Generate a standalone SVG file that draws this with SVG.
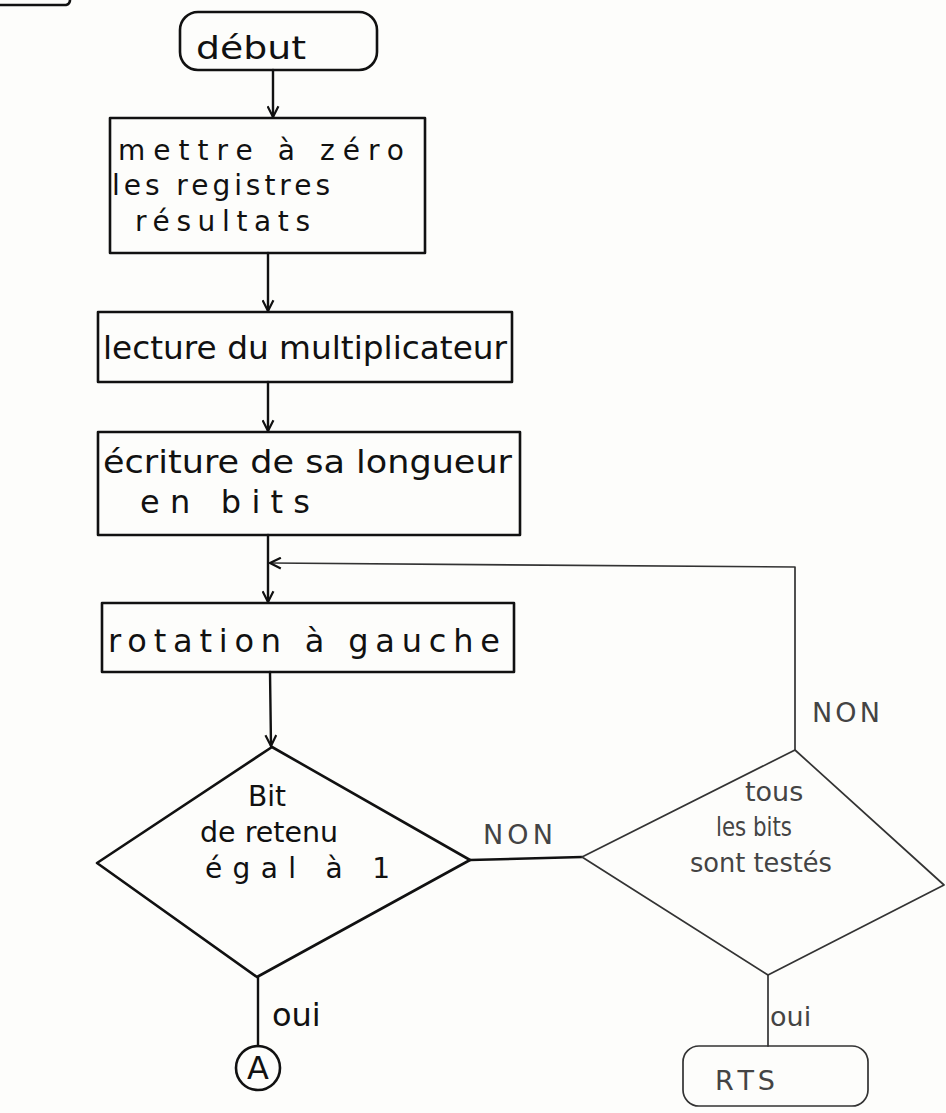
<svg xmlns="http://www.w3.org/2000/svg" width="946" height="1113" viewBox="0 0 946 1113">
  <style>
    .shape { fill: none; stroke: #111; stroke-width: 2.6; stroke-linejoin: round; stroke-linecap: round; }
    .line { fill: none; stroke: #111; stroke-width: 2.4; stroke-linecap: round; }
    .thin { fill: none; stroke: #333; stroke-width: 1.7; stroke-linecap: round; stroke-linejoin: round; }
    .lbl { font-family: "DejaVu Sans", "Liberation Sans", sans-serif; fill: #111; font-size: 32px; }
    .lbl-s { font-family: "DejaVu Sans", "Liberation Sans", sans-serif; fill: #111; font-size: 28px; }
    .faint { font-family: "DejaVu Sans", "Liberation Sans", sans-serif; fill: #444; font-size: 27px; }
  </style>
  <defs>
    <marker id="arrow" viewBox="0 0 12 12" refX="11" refY="6" markerWidth="13" markerHeight="13" markerUnits="userSpaceOnUse" orient="auto">
      <path d="M1,1 L11,6 L1,11" fill="none" stroke="#111" stroke-width="2"/>
    </marker>
  </defs>
  <rect width="946" height="1113" fill="#fdfdfb"/>

  <!-- corner of the element above the start node -->
  <path class="shape" d="M0,5 L66,5 Q70,4 70,0"/>

  <g id="connectors">
    <line class="line" x1="273" y1="70" x2="273" y2="117" marker-end="url(#arrow)"/>
    <line class="line" x1="268" y1="253" x2="268" y2="311" marker-end="url(#arrow)"/>
    <line class="line" x1="268" y1="382" x2="268" y2="431" marker-end="url(#arrow)"/>
    <line class="line" x1="268" y1="535" x2="268" y2="602" marker-end="url(#arrow)"/>
    <line class="line" x1="270" y1="672" x2="271" y2="746" marker-end="url(#arrow)"/>
    <!-- loop back from "tous les bits" -->
    <polyline class="thin" points="795,750 795,567 270,563" marker-end="url(#arrow)"/>
    <line class="line" x1="470" y1="860" x2="582" y2="857"/>
    <line class="line" x1="258" y1="977" x2="258" y2="1046"/>
    <line class="thin" x1="768" y1="975" x2="768" y2="1046"/>
  </g>

  <g id="debut">
    <rect class="shape" x="180" y="12" width="197" height="58" rx="18"/>
    <text class="lbl" x="196" y="59" font-size="34" textLength="110" lengthAdjust="spacingAndGlyphs">début</text>
  </g>

  <g id="raz">
    <rect class="shape" x="110" y="118" width="315" height="135"/>
    <text class="lbl-s" x="118" y="160" textLength="286" lengthAdjust="spacing">mettre à zéro</text>
    <text class="lbl-s" x="112" y="195" textLength="218" lengthAdjust="spacing">les registres</text>
    <text class="lbl-s" x="135" y="231" textLength="175" lengthAdjust="spacing">résultats</text>
  </g>

  <g id="lecture">
    <rect class="shape" x="98" y="312" width="414" height="70"/>
    <text class="lbl" x="103" y="359" textLength="404" lengthAdjust="spacingAndGlyphs">lecture du multiplicateur</text>
  </g>

  <g id="ecriture">
    <rect class="shape" x="98" y="432" width="422" height="103"/>
    <text class="lbl" x="103" y="473" textLength="409" lengthAdjust="spacingAndGlyphs">écriture de sa longueur</text>
    <text class="lbl" x="140" y="513" textLength="170" lengthAdjust="spacing">en bits</text>
  </g>

  <g id="rotation">
    <rect class="shape" x="102" y="603" width="412" height="69"/>
    <text class="lbl" x="108" y="652" textLength="392" lengthAdjust="spacing">rotation à gauche</text>
  </g>

  <g id="test-retenue">
    <polygon class="shape" points="272,747 470,860 257,977 97,863"/>
    <text class="lbl-s" x="248" y="806">Bit</text>
    <text class="lbl-s" x="200" y="842" textLength="138" lengthAdjust="spacingAndGlyphs">de retenu</text>
    <text class="lbl-s" x="205" y="878" textLength="185" lengthAdjust="spacing">égal   à 1</text>
    <text class="faint" x="483" y="844" font-size="24" textLength="70" lengthAdjust="spacing">NON</text>
    <text class="lbl" x="272" y="1026">oui</text>
  </g>

  <g id="connecteur-A">
    <circle class="shape" cx="258" cy="1068" r="22"/>
    <text class="lbl" x="258" y="1079" font-size="30" text-anchor="middle">A</text>
  </g>

  <g id="test-fin">
    <polygon class="thin" points="795,750 944,885 768,975 582,857"/>
    <text class="faint" x="745" y="801" font-size="25">tous</text>
    <text class="faint" x="716" y="836" font-size="25" textLength="76" lengthAdjust="spacingAndGlyphs">les bits</text>
    <text class="faint" x="690" y="872" font-size="25" textLength="142" lengthAdjust="spacingAndGlyphs">sont testés</text>
    <text class="faint" x="812" y="722" font-size="20" textLength="68" lengthAdjust="spacing">NON</text>
    <text class="faint" x="770" y="1026">oui</text>
  </g>

  <g id="rts">
    <rect class="thin" x="683" y="1046" width="185" height="60" rx="16"/>
    <text class="faint" x="715" y="1090" textLength="60" lengthAdjust="spacing">R T S</text>
  </g>
</svg>
